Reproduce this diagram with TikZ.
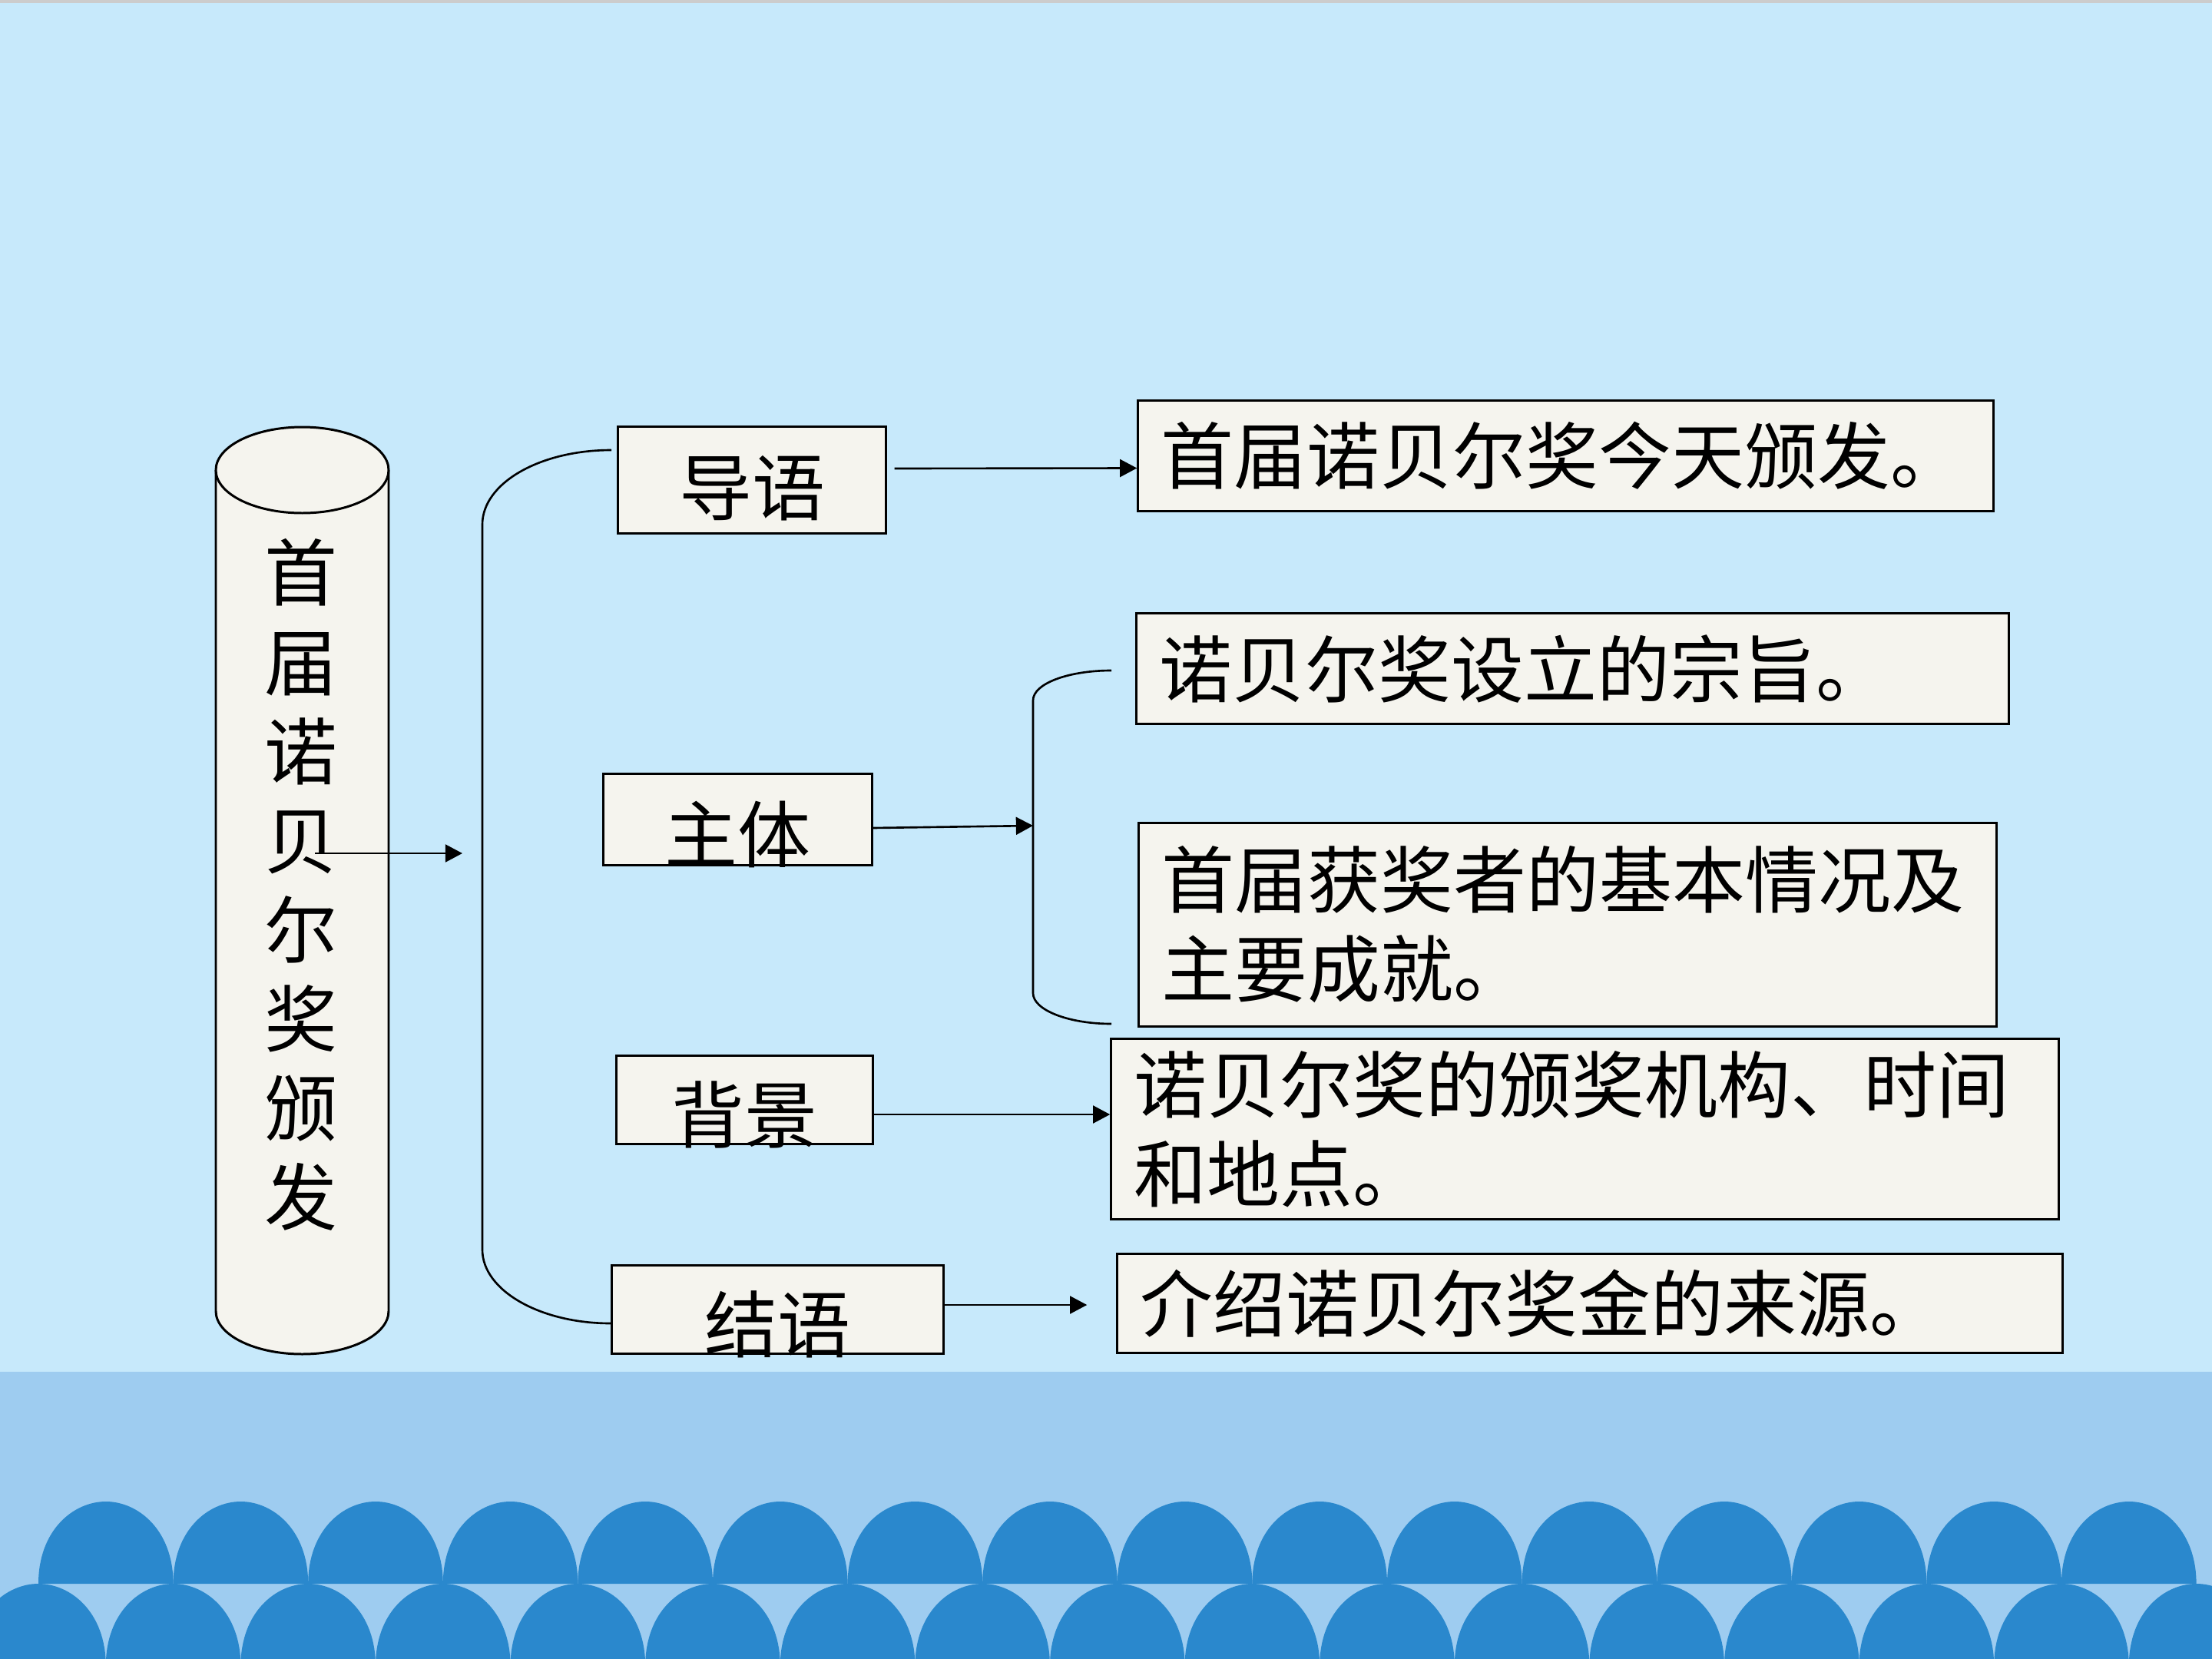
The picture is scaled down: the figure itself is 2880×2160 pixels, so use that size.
\documentclass[tikz,border=0pt]{standalone}
\usepackage{fontspec}
\newfontfamily\cjk{Noto Sans CJK SC}
\usetikzlibrary{arrows.meta}
\definecolor{skyblue}{RGB}{199,233,251}
\definecolor{bandblue}{RGB}{158,204,240}
\definecolor{waveblue}{RGB}{42,136,205}
\definecolor{boxfill}{RGB}{245,244,238}
\tikzset{>={Triangle[length=6.3pt,width=6.5pt]}}
\tikzset{every node/.style={font=\cjk\fontsize{27pt}{33pt}\selectfont}}
\tikzset{lbox/.style={draw,fill=boxfill,line width=0.85pt,inner sep=0pt,text height=31.6pt,text depth=0pt},
         rbox/.style={draw,fill=boxfill,line width=0.85pt,inner xsep=8.5pt,inner ysep=0pt,align=left},
         link/.style={->,line width=0.75pt}}

\begin{document}
\begin{tikzpicture}[x=0.01cm,y=-0.01cm]
    \useasboundingbox (0,0) rectangle (2880,2160);
    % background and waves
    \fill[skyblue] (0,0) rectangle (2880,2160);
    \fill[gray!40] (0,0) rectangle (2880,4);
    \fill[bandblue] (0,1786) rectangle (2880,2160);
    \foreach \i in {0,...,15}{
        \pgfmathsetmacro{\cx}{137.8+175.6*\i}
        \fill[waveblue] (\cx-87.8,2062) .. controls (\cx-87.8,1992) and (\cx-42,1955) .. (\cx,1955)
            .. controls (\cx+42,1955) and (\cx+87.8,1992) .. (\cx+87.8,2062) -- cycle;
    }
    \foreach \i in {0,...,16}{
        \pgfmathsetmacro{\cx}{50+175.6*\i}
        \fill[waveblue] (\cx-87.8,2175) -- (\cx-87.8,2169) .. controls (\cx-87.8,2099) and (\cx-42,2062) .. (\cx,2062)
            .. controls (\cx+42,2062) and (\cx+87.8,2099) .. (\cx+87.8,2169) -- (\cx+87.8,2175) -- cycle;
    }

    % cylinder
    \filldraw[fill=boxfill,line width=0.85pt] (281,612) -- (281,1707)
        .. controls (281,1738) and (331.4,1763) .. (393.5,1763)
        .. controls (455.6,1763) and (506,1738) .. (506,1707) -- (506,612);
    \filldraw[fill=boxfill,line width=0.85pt] (393.5,612) ellipse [x radius=112.5,y radius=56];
    \node[align=center,inner sep=0pt] (title) at (392,1152) {首\\届\\诺\\贝\\尔\\奖\\颁\\发};

    % brackets
    \draw[line width=0.75pt] (796,586) .. controls (703,586) and (628,629) .. (628,683) -- (628,1627)
        .. controls (628,1680) and (703,1723) .. (795,1723);
    \draw[line width=0.75pt] (1447,873) .. controls (1391,873) and (1345,890) .. (1345,912) -- (1345,1293)
        .. controls (1345,1315) and (1391,1333) .. (1447,1333);

    \node[lbox,minimum width=3.48cm,minimum height=1.38cm,text height=25.8pt] (daoyu) at (979,625) {导语};
    \node[lbox,minimum width=3.49cm,minimum height=1.18cm] (zhuti) at (960.5,1067) {主体};
    \node[lbox,minimum width=3.33cm,minimum height=1.14cm] (beijing) at (969.5,1432) {背景};
    \node[lbox,minimum width=4.31cm,minimum height=1.14cm] (jieyu) at (1012.5,1705) {结语};

    \node[rbox,text width=10.53cm,minimum height=1.43cm] (ra) at (2038.5,593.5) {首届诺贝尔奖今天颁发。};
    \node[rbox,text width=10.75cm,minimum height=1.43cm] (rb) at (2047.5,870.5) {诺贝尔奖设立的宗旨。};
    \node[rbox,text width=10.56cm,minimum height=2.64cm] (rc) at (2041,1204) {首届获奖者的基本情况及\\主要成就。};
    \node[rbox,text width=11.73cm,minimum height=2.34cm] (rd) at (2063.5,1470) {诺贝尔奖的颁奖机构、时间\\和地点。};
    \node[rbox,text width=11.70cm,minimum height=1.28cm] (re) at (2070,1697) {介绍诺贝尔奖金的来源。};

    \coordinate (tail) at (410,1111);
    \coordinate (b1) at (602,1111);
    \coordinate (b2) at (1345,1075);

    \draw[link] (tail) -- (b1);
    \draw[link] ([shift={(10,-15)}]daoyu.east) -- ([shift={(0,16)}]ra.west);
    \draw[link] ([shift={(0,11)}]zhuti.east) -- (b2);
    \draw[link] ([shift={(0,19)}]beijing.east) -- ([shift={(0,-19)}]rd.west);
    \draw[link] ([shift={(0,-6)}]jieyu.east) -- ([shift={(-38,2)}]re.west);
\end{tikzpicture}
\end{document}
